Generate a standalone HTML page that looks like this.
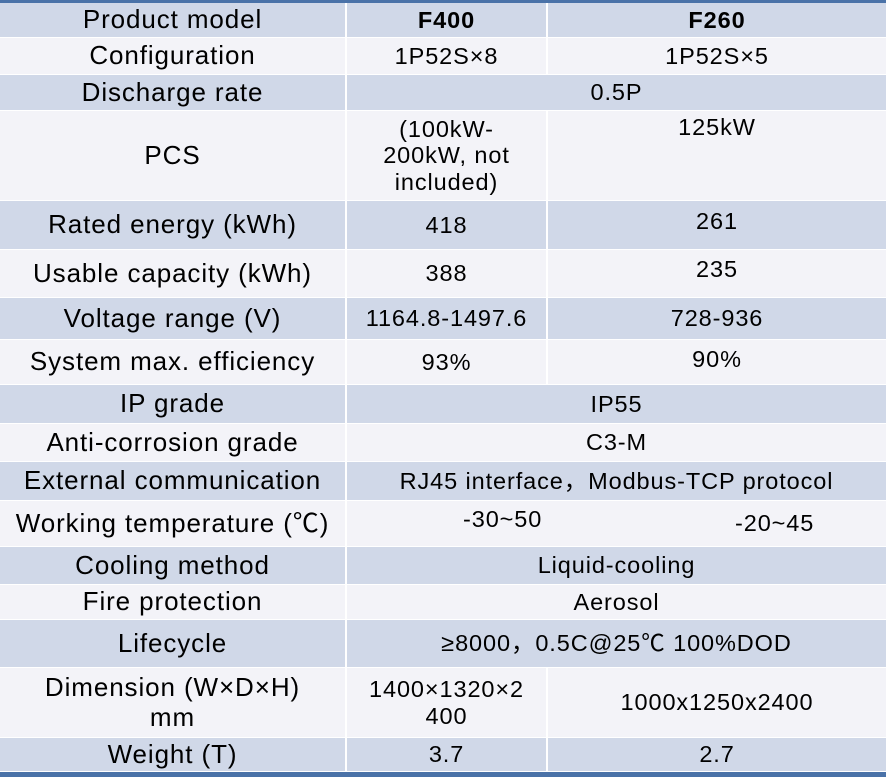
<!DOCTYPE html>
<html><head><meta charset="utf-8"><style>
body{margin:0;width:886px;height:777px;background:#fff;position:relative;overflow:hidden;font-family:"Liberation Sans","Noto Sans CJK SC",sans-serif;color:#000}
.c{position:absolute;display:flex;align-items:center;justify-content:center;text-align:center;box-sizing:border-box;line-height:1.13}
.l{font-size:26px;letter-spacing:0.9px}
.v{font-size:23.5px;letter-spacing:0.9px}
.b{background:#d0d8e8}
.w{background:#f3f3f8}
.bar{position:absolute;left:0;width:886px;background:#4a72a8}
.a{position:absolute;font-size:23.5px;letter-spacing:0.9px;white-space:nowrap}
</style></head><body>
<div class="bar" style="top:0;height:3px"></div>
<div class="bar" style="top:772px;height:5px"></div>
<div id="t"></div>
<script>
const rows=[
[3,38,"b","Product model","<b>F400</b>","<b>F260</b>"],
[38,75,"w","Configuration","1P52S×8","1P52S×5"],
[75,111,"b","Discharge rate","0.5P",null],
[111,201,"w","PCS","(100kW-<br>200kW, not<br>included)","<span style='position:relative;top:-28px'>125kW</span>"],
[201,250,"b","Rated energy (kWh)","418","<span style='position:relative;top:-4px'>261</span>"],
[250,298,"w","Usable capacity (kWh)","388","<span style='position:relative;top:-4px'>235</span>"],
[298,340,"b","Voltage range (V)","1164.8-1497.6","728-936"],
[340,385,"w","System max. efficiency","93%","<span style='position:relative;top:-3px'>90%</span>"],
[385,424,"b","IP grade","IP55",null],
[424,462,"w","Anti-corrosion grade","C3-M",null],
[462,501,"b","External communication","RJ45 interface，Modbus-TCP protocol",null],
[501,547,"w","Working temperature (℃)","",null],
[547,585,"b","Cooling method","Liquid-cooling",null],
[585,620,"w","Fire protection","Aerosol",null],
[620,668,"b","Lifecycle","≥8000，0.5C@25℃ 100%DOD",null],
[668,738,"w","Dimension (W×D×H)<br>mm","1400×1320×2<br>400","1000x1250x2400"],
[738,772,"b","Weight (T)","3.7","2.7"]];
let h="";
for(const r of rows){const [t,b,c,a,x,y]=r;const H=b-t;
h+=`<div class="c l ${c}" style="left:0;top:${t}px;width:345px;height:${H-1}px">${a}</div>`;
if(y===null){h+=`<div class="c v ${c}" style="left:347px;top:${t}px;width:539px;height:${H-1}px">${x}</div>`}
else{h+=`<div class="c v ${c}" style="left:347px;top:${t}px;width:199px;height:${H-1}px">${x}</div>`;
h+=`<div class="c v ${c}" style="left:548px;top:${t}px;width:338px;height:${H-1}px">${y}</div>`}}
h+=`<div class="a" style="left:463px;top:506px">-30~50</div><div class="a" style="left:735px;top:510px">-20~45</div>`;
document.getElementById("t").innerHTML=h;
</script>
</body></html>
